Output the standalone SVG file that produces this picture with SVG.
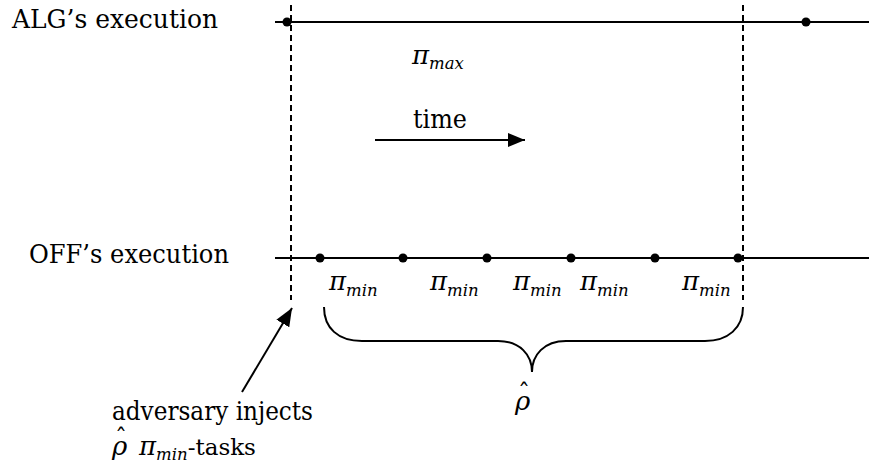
<svg xmlns="http://www.w3.org/2000/svg" width="869" height="473" viewBox="0 0 869 473">
<style>
text{fill:#000;font-size:26px;font-family:"DejaVu Serif","Liberation Serif",serif}
.it{font-style:italic}
.sub{font-size:16.5px;font-style:italic}
.ln{stroke:#000;stroke-width:2;fill:none}
.dash{stroke:#000;stroke-width:2;stroke-dasharray:6,4;fill:none}
.dot{fill:#000}
</style>
<defs>
<marker id="ah" markerWidth="17" markerHeight="14" refX="17" refY="7" orient="auto" markerUnits="userSpaceOnUse" viewBox="0 0 17 14">
<path d="M0,0 L17,7 L0,14 z" fill="#000"/>
</marker>
<marker id="ah2" markerWidth="18" markerHeight="15" refX="18" refY="7.5" orient="auto" markerUnits="userSpaceOnUse" viewBox="0 0 18 15">
<path d="M0,0 L18,7.5 L0,15 z" fill="#000"/>
</marker>
</defs>
<g id="alg">
<text x="12" y="28" textLength="206" lengthAdjust="spacingAndGlyphs">ALG’s execution</text>
<line class="ln" x1="275" y1="22" x2="869" y2="22"/>
<circle class="dot" cx="287" cy="22" r="4.5"/>
<circle class="dot" cx="806" cy="22" r="4.5"/>
</g>
<g id="off">
<text x="29" y="263" textLength="200" lengthAdjust="spacingAndGlyphs">OFF’s execution</text>
<line class="ln" x1="275" y1="258" x2="869" y2="258"/>
<circle class="dot" cx="320" cy="258" r="4.5"/>
<circle class="dot" cx="403" cy="258" r="4.5"/>
<circle class="dot" cx="487" cy="258" r="4.5"/>
<circle class="dot" cx="571" cy="258" r="4.5"/>
<circle class="dot" cx="655" cy="258" r="4.5"/>
<circle class="dot" cx="738" cy="258" r="4.5"/>
</g>
<g id="dashes">
<line class="dash" x1="291" y1="5" x2="291" y2="300"/>
<line class="dash" x1="743" y1="5" x2="743" y2="300"/>
</g>
<g id="pimax">
<text x="412" y="64" class="it">π<tspan class="sub" dy="5">max</tspan></text>
</g>
<g id="time">
<text x="413" y="128" textLength="54" lengthAdjust="spacingAndGlyphs">time</text>
</g>
<g id="pimins">
<text x="329" y="290" class="it">π<tspan class="sub" dy="6">min</tspan></text>
<text x="430" y="290" class="it">π<tspan class="sub" dy="6">min</tspan></text>
<text x="513" y="290" class="it">π<tspan class="sub" dy="6">min</tspan></text>
<text x="580" y="290" class="it">π<tspan class="sub" dy="6">min</tspan></text>
<text x="682" y="290" class="it">π<tspan class="sub" dy="6">min</tspan></text>
</g>
<g id="brace">
<path class="ln" d="M324,307 C324,328 338,341 362,341 L498,341 C520,341 532,355 532,372 C532,355 544,341 566,341 L705,341 C728,341 743,328 743,307"/>
<text x="515" y="410" class="it">ρ<tspan x="518" y="401" font-size="24" font-style="normal">ˆ</tspan></text>
</g>
<g id="connectors">
<line class="ln" x1="375" y1="140" x2="525" y2="140" marker-end="url(#ah)"/>
<line class="ln" x1="242" y1="392" x2="292" y2="308" marker-end="url(#ah2)"/>
</g>
<g id="adversary">
<text x="112" y="420" textLength="201" lengthAdjust="spacingAndGlyphs">adversary injects</text>
<text x="112" y="455"><tspan class="it">ρ</tspan><tspan x="115" y="446" font-size="24">ˆ</tspan><tspan x="139" y="455" class="it">π</tspan><tspan class="sub" dy="5">min</tspan><tspan dy="-5" font-size="23">-tasks</tspan></text>
</g>
</svg>
